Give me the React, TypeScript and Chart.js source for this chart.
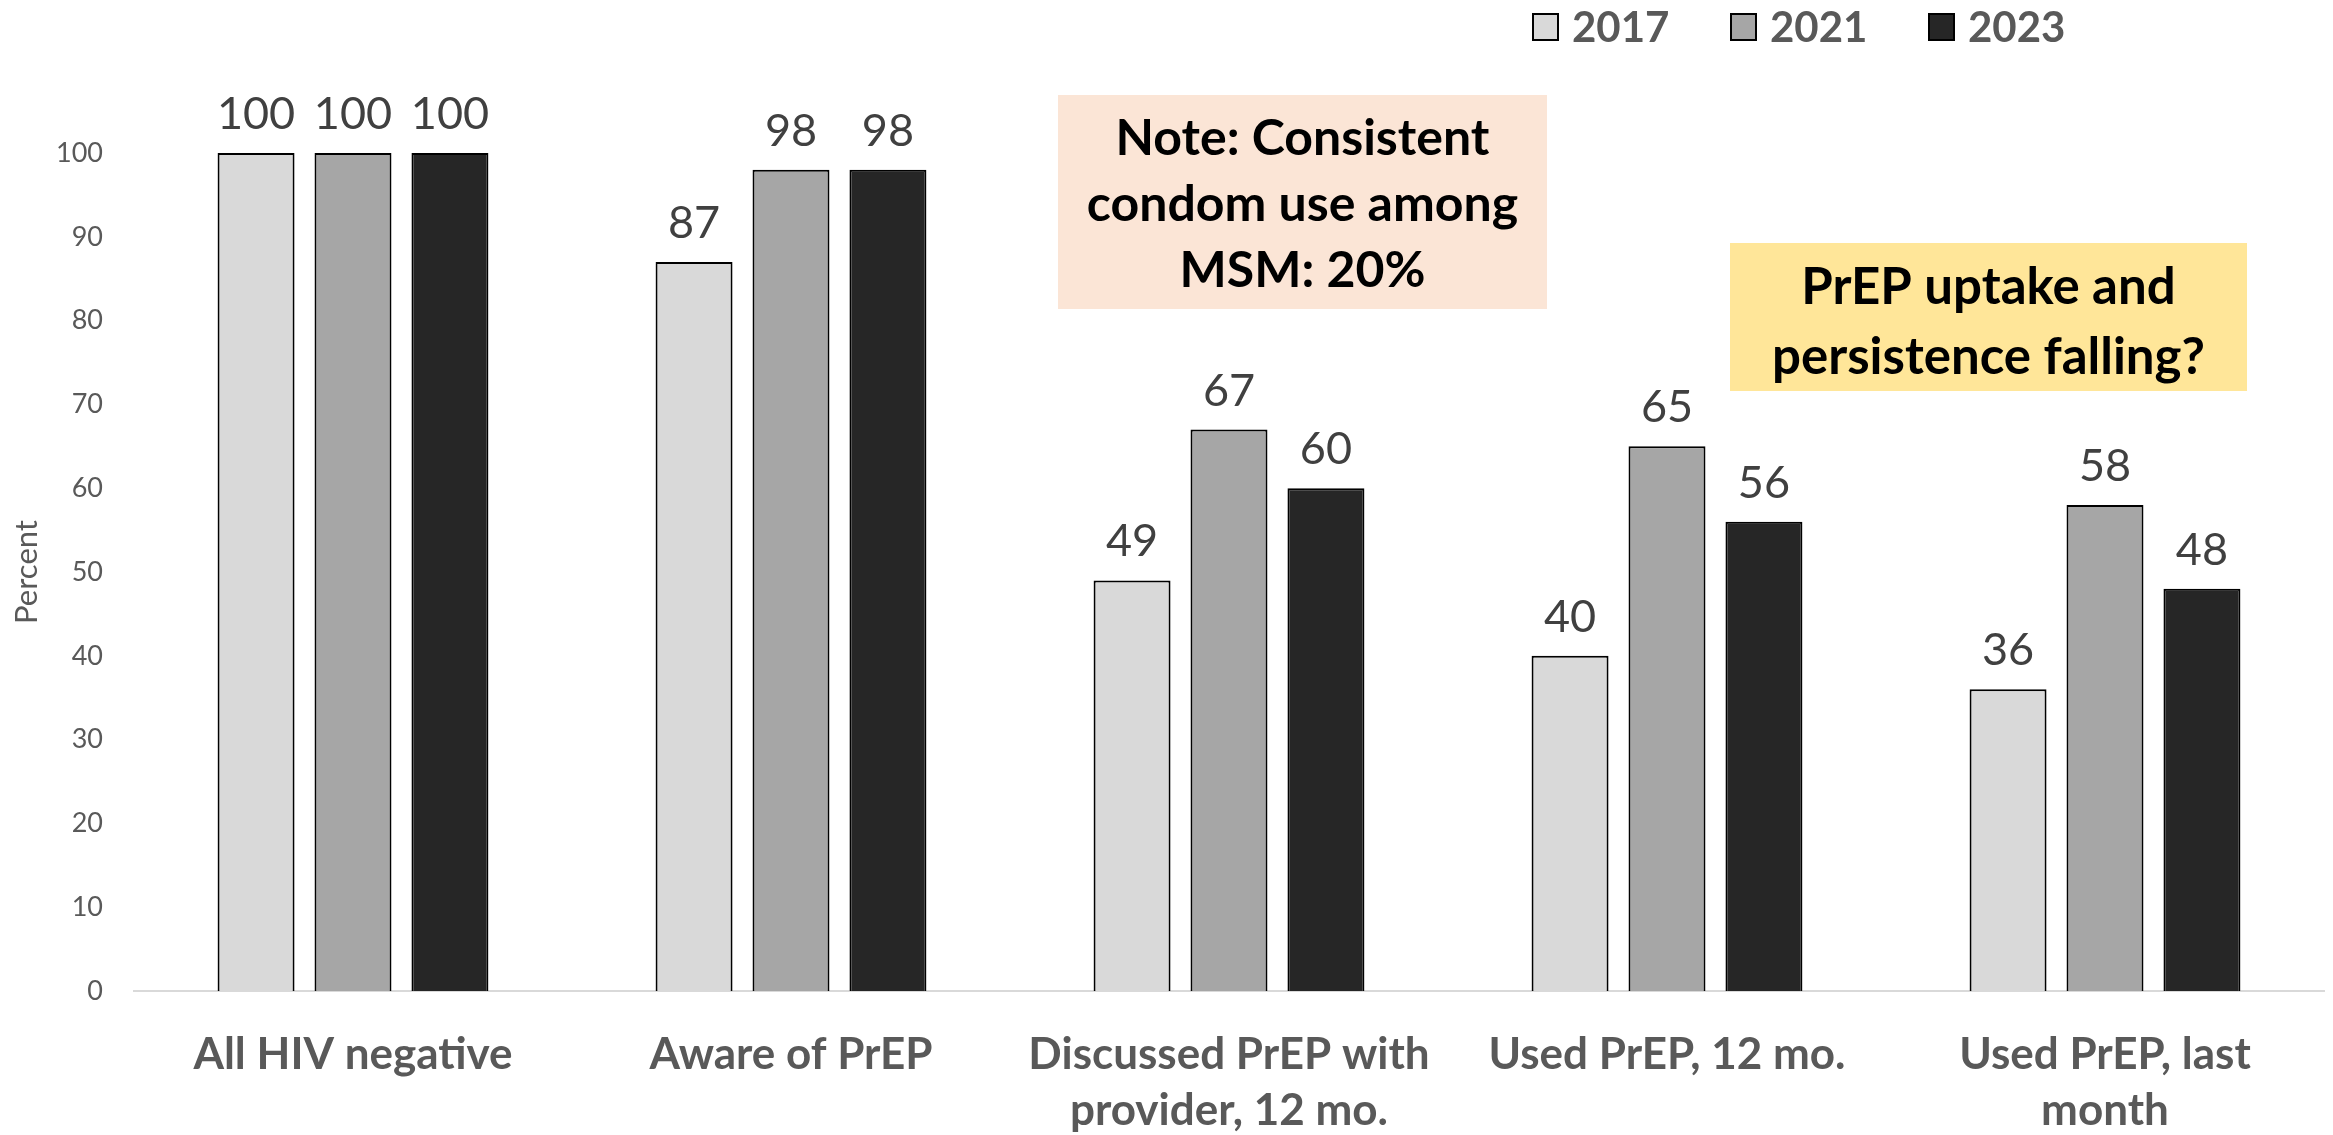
import React, { useEffect, useRef } from 'react';
import { Chart, registerables } from 'chart.js';

Chart.register(...registerables);

const categories: (string | string[])[] = [
  'All HIV negative',
  'Aware of PrEP',
  ['Discussed PrEP with', 'provider, 12 mo.'],
  'Used PrEP, 12 mo.',
  ['Used PrEP, last', 'month'],
];
const seriesLabels = ['2017', '2021', '2023'];
const values2017 = [100, 87, 49, 40, 36];
const values2021 = [100, 98, 67, 65, 58];
const values2023 = [100, 98, 60, 56, 48];
const seriesColors = ['#d9d9d9', '#a6a6a6', '#262626'];
const yAxisTitle = 'Percent';
const noteLines = ['Note: Consistent', 'condom use among', 'MSM: 20%'];
const prepLines = ['PrEP uptake and', 'persistence falling?'];

const FONT = 'Lato, "Open Sans", sans-serif';

const dataLabelPlugin = {
  id: 'dataLabels',
  afterDatasetsDraw(chart: any) {
    const ctx = chart.ctx;
    ctx.save();
    ctx.font = `45px ${FONT}`;
    ctx.fillStyle = '#404040';
    ctx.textAlign = 'center';
    ctx.textBaseline = 'alphabetic';
    chart.data.datasets.forEach((ds: any, i: number) => {
      const meta = chart.getDatasetMeta(i);
      meta.data.forEach((bar: any, j: number) => {
        ctx.fillText(String(ds.data[j]), bar.x, bar.y - 24);
      });
    });
    ctx.restore();
  },
};

const legendPlugin = {
  id: 'customLegend',
  afterDraw(chart: any) {
    const ctx = chart.ctx;
    ctx.save();
    ctx.font = `bold 42px ${FONT}`;
    ctx.textBaseline = 'alphabetic';
    ctx.textAlign = 'left';
    const startX = 1532;
    const step = 198;
    chart.data.datasets.forEach((ds: any, i: number) => {
      const x = startX + i * step;
      ctx.fillStyle = ds.backgroundColor;
      ctx.fillRect(x, 13, 27, 28);
      ctx.strokeStyle = '#000000';
      ctx.lineWidth = 2;
      ctx.strokeRect(x + 1, 14, 25, 26);
      ctx.fillStyle = '#595959';
      ctx.fillText(ds.label, x + 40, 42);
    });
    ctx.restore();
  },
};

const annotationPlugin = {
  id: 'annotations',
  afterDraw(chart: any) {
    const ctx = chart.ctx;
    ctx.save();
    const drawBox = (
      x1: number, y1: number, x2: number, y2: number,
      fill: string, lines: string[], firstBaseline: number, size: number, spacing: number,
    ) => {
      ctx.fillStyle = fill;
      ctx.fillRect(x1, y1, x2 - x1, y2 - y1);
      ctx.fillStyle = '#000000';
      ctx.font = `bold ${size}px ${FONT}`;
      ctx.textAlign = 'center';
      ctx.textBaseline = 'alphabetic';
      lines.forEach((t, k) => ctx.fillText(t, (x1 + x2) / 2, firstBaseline + k * spacing));
    };
    drawBox(1058, 95, 1547, 309, '#fbe5d6', noteLines, 155, 50, 66);
    drawBox(1730, 243, 2247, 391, '#ffe699', prepLines, 304, 51, 70);
    ctx.restore();
  },
};

export default function App() {
  const canvasRef = useRef<HTMLCanvasElement | null>(null);

  useEffect(() => {
    if (!canvasRef.current) return;
    const chart = new Chart(canvasRef.current, {
      type: 'bar',
      data: {
        labels: categories,
        datasets: [values2017, values2021, values2023].map((vals, i) => ({
          label: seriesLabels[i],
          data: vals,
          backgroundColor: seriesColors[i],
          borderColor: '#000000',
          borderWidth: 2,
          categoryPercentage: 0.664,
          barPercentage: 0.794,
          clip: false,
        })),
      },
      options: {
        animation: false,
        responsive: false,
        devicePixelRatio: 1,
        layout: { padding: { top: 153, right: 9, left: 0, bottom: 0 } },
        plugins: {
          legend: { display: false },
          tooltip: { enabled: false },
          title: { display: false },
        },
        scales: {
          x: {
            grid: { display: false, drawTicks: false },
            border: { display: true, color: '#d9d9d9', width: 2 },
            ticks: {
              color: '#595959',
              font: { family: FONT, size: 44, weight: 'bold', lineHeight: 56 / 44 },
              padding: 36,
              maxRotation: 0,
              autoSkip: false,
            },
            afterFit(scale: any) {
              scale.height = 144;
            },
          },
          y: {
            min: 0,
            max: 100,
            grid: { display: false, drawTicks: false },
            border: { display: false },
            ticks: {
              stepSize: 10,
              color: '#595959',
              font: { family: FONT, size: 27 },
              padding: 31,
            },
            title: {
              display: true,
              text: yAxisTitle,
              color: '#595959',
              font: { family: FONT, size: 31 },
              padding: { top: 8, bottom: 0 },
            },
            afterFit(scale: any) {
              scale.width = 134;
            },
          },
        },
      },
      plugins: [dataLabelPlugin, legendPlugin, annotationPlugin],
    });
    return () => chart.destroy();
  }, []);

  return (
    <div style={{ position: 'fixed', left: 0, top: 0, width: 2333, height: 1135, background: '#ffffff' }}>
      <canvas ref={canvasRef} width={2333} height={1135} style={{ width: 2333, height: 1135, display: 'block' }} />
    </div>
  );
}
